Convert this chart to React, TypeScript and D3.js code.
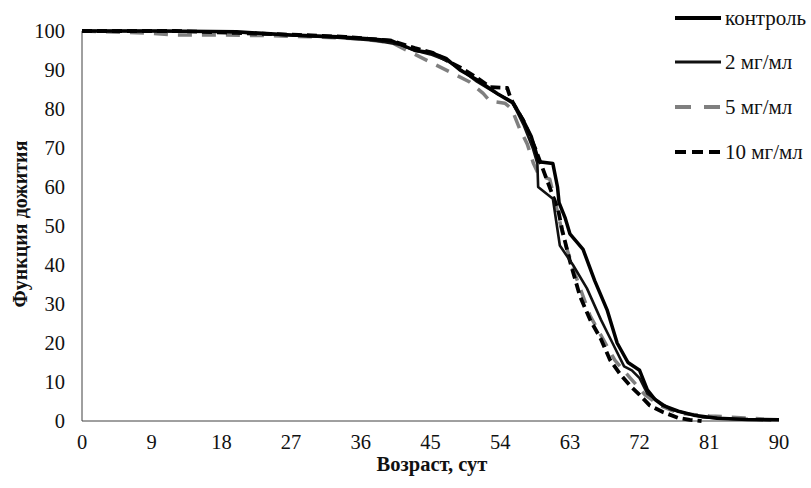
import React from "react";
import * as d3 from "d3";

const xTicks = [0, 9, 18, 27, 36, 45, 54, 63, 72, 81, 90];
const yTicks = [0, 10, 20, 30, 40, 50, 60, 70, 80, 90, 100];

const controlDays = [0, 10, 20, 27, 33, 37, 40, 43, 45, 47, 48.8, 51, 53.6, 55.7, 57, 58, 59, 60.8, 61.4, 61.6, 62.4, 63, 64.7, 66.2, 67.8, 69.1, 70.5, 72, 73, 74, 75, 77, 79, 82, 86, 90];
const controlVals = [100, 100, 99.8, 99, 98.5, 98, 97.5, 95, 94.5, 93, 90, 87.5, 84, 81.5, 77, 73, 66.5, 66, 60, 56, 52, 48, 44, 36, 28.5, 20, 15, 13, 8, 5.5, 4, 2.5, 1.5, 0.7, 0.4, 0.3];

const mg2Days = [0, 10, 18, 26, 33, 38, 41, 43, 45, 47, 49, 51, 53.5, 55.5, 57, 58.2, 58.8, 58.9, 60.8, 61.7, 63.4, 65.2, 67, 68.5, 70, 71, 72, 73, 74.5, 76, 78, 80, 84, 89];
const mg2Vals = [100, 100, 99.8, 99, 98.3, 97.5, 96.5, 95, 94, 92.5, 90, 87, 84, 82, 76, 70, 66, 60, 57, 45, 40, 34, 26, 20, 14, 13, 11, 7, 5, 3, 2, 1, 0.5, 0.2];

const mg5Days = [0, 8, 12, 18, 24, 30, 36, 40, 43, 45, 48, 50, 51.8, 52.7, 54.6, 55.5, 56.5, 57.5, 58.3, 59, 60.4, 61, 62.3, 63.7, 65.6, 67, 68.8, 70.8, 72.7, 74.6, 77, 81, 85.6, 88];
const mg5Vals = [100, 99.5, 99, 99, 98.8, 98.5, 98, 97, 94, 92, 89, 87, 84, 82, 81.5, 80, 75, 71, 66, 63, 62, 57, 46, 37.5, 27, 22, 15.6, 11, 6.7, 4, 2, 1.3, 0.8, 0.5];

const mg10Days = [0, 12, 20, 28, 34, 37, 40, 43, 45.3, 47.5, 49, 51, 52.7, 54.9, 55.3, 55.8, 57, 58.5, 60, 61.5, 62, 63, 64.3, 65.6, 67, 68.2, 69.5, 70.8, 72, 73.3, 75, 77, 78.5, 80];
const mg10Vals = [100, 100, 99.5, 99, 98.5, 98, 97.5, 95.6, 94.4, 92, 90.5, 88, 85.6, 85.4, 83, 81, 77, 70, 62, 54, 49, 41, 32, 26, 21, 15.6, 12, 9, 6.7, 4, 2.3, 0.8, 0.3, 0];

const seriesNames = ["контроль", "2 мг/мл", "5 мг/мл", "10 мг/мл"];

const styles = [
  { color: "#000", width: 3.5, dash: "none" },
  { color: "#111", width: 2.6, dash: "none" },
  { color: "#7f7f7f", width: 3.5, dash: "14,10" },
  { color: "#000", width: 3.8, dash: "10,5" },
];

export default function App() {
  const W = 811, H = 488;
  const x0 = 82, x1 = 779, yTop = 31, yBot = 421;
  const x = d3.scaleLinear().domain([0, 90]).range([x0, x1]);
  const y = d3.scaleLinear().domain([0, 100]).range([yBot, yTop]);
  const line = d3.line<[number, number]>().x(d => x(d[0])).y(d => y(d[1])).curve(d3.curveLinear);

  const series = [
    d3.zip(controlDays, controlVals),
    d3.zip(mg2Days, mg2Vals),
    d3.zip(mg5Days, mg5Vals),
    d3.zip(mg10Days, mg10Vals),
  ] as [number, number][][];

  const font = "'Liberation Serif', 'Times New Roman', serif";
  const legendY = [18, 62, 107, 152];
  const order = [2, 3, 1, 0];

  return (
    <div style={{ position: "absolute", left: 0, top: 0, width: W, height: H, background: "#fff" }}>
      <svg width={W} height={H} style={{ display: "block" }} fontFamily={font}>
        <rect width={W} height={H} fill="#fff" />
        <line x1={x0} y1={yTop} x2={x0} y2={yBot} stroke="#404040" strokeWidth={1} />
        <line x1={x0} y1={yBot} x2={x1} y2={yBot} stroke="#404040" strokeWidth={1} />
        {yTicks.map(t => (
          <text key={"y" + t} x={65} y={y(t)} textAnchor="end" dominantBaseline="central" fontSize={20.5} fill="#111">{t}</text>
        ))}
        {xTicks.map(t => (
          <text key={"x" + t} x={x(t)} y={442} textAnchor="middle" dominantBaseline="central" fontSize={20.5} fill="#111">{t}</text>
        ))}
        <text x={432} y={464} textAnchor="middle" dominantBaseline="central" fontSize={20.5} fontWeight="bold" fill="#111">Возраст, сут</text>
        <text transform={`translate(20,224) rotate(-90)`} textAnchor="middle" dominantBaseline="central" fontSize={20} fontWeight="bold" fill="#111">Функция дожития</text>
        {order.map(i => (
          <path key={"s" + i} d={line(series[i]) || ""} fill="none" stroke={styles[i].color} strokeWidth={styles[i].width}
            strokeDasharray={styles[i].dash} strokeLinejoin="round" />
        ))}
        {seriesNames.map((n, i) => (
          <g key={"l" + i}>
            <line x1={675} x2={721} y1={legendY[i]} y2={legendY[i]} stroke={styles[i].color}
              strokeWidth={i === 1 ? 3 : 4} strokeDasharray={i === 2 ? "16,13" : i === 3 ? "11,6" : "none"} />
            <text x={725} y={legendY[i]} dominantBaseline="central" fontSize={21} fill="#111">{n}</text>
          </g>
        ))}
      </svg>
    </div>
  );
}
